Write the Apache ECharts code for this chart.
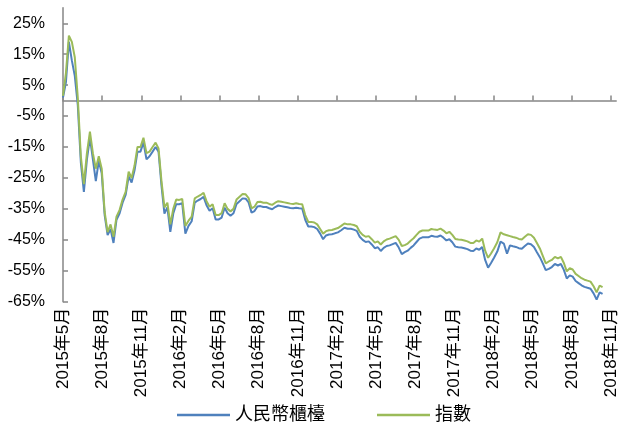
<!DOCTYPE html>
<html><head><meta charset="utf-8">
<script src="https://cdn.jsdelivr.net/npm/echarts@6/dist/echarts.min.js"></script>
<style>html,body{margin:0;padding:0;background:#fff}#c{width:628px;height:426px}</style>
</head><body><div id="c"></div>
<script>
const seriesNames = ['人民幣櫃檯', '指數'];
const xTickLabels = ['2015年5月','2015年8月','2015年11月','2016年2月','2016年5月','2016年8月','2016年11月','2017年2月','2017年5月','2017年8月','2017年11月','2018年2月','2018年5月','2018年8月','2018年11月'];
const yTicks = [-65,-55,-45,-35,-25,-15,-5,5,15,25];
// weekly observations starting from this date
const firstWeek = '2015-05-01';
// cumulative return (%), 人民幣櫃檯
const rmbCounter = [
  1.0, 6, 19, 13, 8, -1.5, -20, -29.5, -19, -12,
  -19, -26, -19.5, -23.5, -37, -43.5, -41.5, -46, -38.5, -36.5,
  -33, -30.5, -24.5, -26.5, -22.5, -16.5, -16.5, -13.5, -19, -18,
  -16.5, -15, -16.5, -27.5, -36.5, -34.5, -42.4, -36.5, -33.5, -33.5,
  -33.2, -43, -40.5, -39, -33, -32.3, -31.8, -31.1, -33.8, -35.6,
  -34.8, -38.4, -38.4, -37.8, -34.6, -36.4, -37.2, -36.4, -33.4, -32.5,
  -31.6, -31.7, -32.9, -36.2, -35.7, -34.2, -34.1, -34.4, -34.4, -34.8,
  -35.1, -34.4, -33.9, -34.1, -34.3, -34.5, -34.7, -34.8, -34.6, -34.8,
  -34.9, -38.5, -40.7, -40.7, -40.9, -41.5, -43, -44.8, -43.6, -43.3,
  -43.2, -42.9, -42.6, -41.9, -41.1, -41.4, -41.4, -41.7, -42.1, -44,
  -45, -45.7, -45.5, -46.5, -47.7, -47.4, -48.6, -47.6, -47, -46.8,
  -46.4, -46, -47.5, -49.6, -49, -48.5, -47.6, -46.8, -45.7, -44.6,
  -44.2, -44.2, -44.2, -43.7, -43.9, -44, -43.6, -44.3, -45.2, -44.8,
  -45.8, -47.2, -47.4, -47.5, -47.7, -48, -48.5, -48.6, -47.8, -48.2,
  -47.3, -51.5, -54, -52.5, -50.8, -48.8, -45.6, -46.2, -49.5, -46.8,
  -47.1, -47.3, -47.7, -47.9, -47, -46.2, -46.4, -47.3, -49, -50.6,
  -52.6, -54.8, -54.4, -53.8, -52.8, -53.3, -52.8, -54.7, -57.5, -56.5,
  -56.9, -58.3, -59, -59.7, -60.2, -60.5, -60.8, -62.3, -64.3, -62,
  -62.5
];
// cumulative return (%), 指數
const indexValues = [
  1.5, 9, 21, 19, 14, 1, -18, -27, -17, -10,
  -17, -22, -18, -22, -36, -42.5, -40, -44, -37.5, -35.4,
  -32, -29.5, -23, -25, -21, -15, -15, -12, -17, -16.5,
  -15, -13.6, -15.5, -26, -34.5, -33, -40, -35, -32, -32.1,
  -31.8, -40.5, -38.8, -37.5, -31.6, -31, -30.5, -29.8, -32.5, -34.3,
  -33.5, -37, -37, -36.4, -33.2, -35, -35.8, -35, -32, -31.1,
  -30.2, -30.3, -31.5, -34.8, -34.3, -32.8, -32.7, -33, -33, -33.4,
  -33.7, -33, -32.5, -32.7, -32.9, -33.1, -33.3, -33.4, -33.2, -33.4,
  -33.5, -37, -39.2, -39.2, -39.4, -40, -41.5, -43, -42.2, -41.9,
  -41.8, -41.5, -41.2, -40.5, -39.7, -40, -40, -40.2, -40.6, -42.4,
  -43.4, -44, -43.8, -44.8, -45.9, -45.5, -46.5, -45.5, -44.9, -44.6,
  -44.2, -43.8, -45, -47, -46.7, -46.2, -45.3, -44.5, -43.4, -42.4,
  -42, -42, -42, -41.5, -41.7, -41.8, -41.4, -42, -42.9, -42.4,
  -43.4, -44.7, -44.9, -45, -45.2, -45.5, -46, -46, -45.2, -45.6,
  -44.6, -48.5, -50.8, -49.4, -47.8, -45.8, -42.6, -43.2, -43.5, -43.8,
  -44.1, -44.3, -44.7, -44.9, -44, -43.2, -43.4, -44.3, -46, -47.8,
  -50.2, -52.6, -52, -51.5, -50.5, -51, -50.5, -52.5, -55.2, -54.2,
  -54.6, -56, -56.7, -57.4, -57.9, -58.2, -58.5, -60, -62, -59.8,
  -60.3
];

// x position in months since 2015年5月
function monthIndex(ts) {
  const d = new Date(ts);
  const y = d.getUTCFullYear(), m = d.getUTCMonth();
  const dim = new Date(Date.UTC(y, m + 1, 0)).getUTCDate();
  return (y - 2015) * 12 + (m - 4) + (d.getUTCDate() - 1) / dim;
}
const t0 = Date.parse(firstWeek + 'T00:00:00Z');
const weekMs = 7 * 86400000;
const xs = indexValues.map((_, i) => monthIndex(t0 + i * weekMs));
const xTickValues = xTickLabels.map((_, i) => i * 3);

const FONT = "'Liberation Sans','Noto Sans CJK TC',sans-serif";
const axisGray = '#868686';

const chart = echarts.init(document.getElementById('c'), null, {renderer: 'canvas'});
chart.setOption({
  animation: false,
  backgroundColor: '#fff',
  grid: {left: 63, right: 11.8, top: 7.8, bottom: 124.3, containLabel: false, outerBoundsMode: 'none'},
  legend: {
    data: seriesNames, left: 172, top: 401, icon: 'rect', itemWidth: 53, itemHeight: 2.5, itemGap: 52,
    textStyle: {fontSize: 18, color: '#000', fontFamily: FONT}
  },
  xAxis: [
    {
      type: 'value', min: 0, max: 42.4,
      axisLine: {show: true, onZero: true, lineStyle: {color: axisGray, width: 1.5}},
      axisTick: {show: true, inside: true, length: 5, customValues: xTickValues, lineStyle: {color: axisGray, width: 1.5}},
      axisLabel: {show: false},
      splitLine: {show: false}
    },
    {
      type: 'value', min: 0, max: 42.4, position: 'bottom',
      axisLine: {show: false, onZero: false},
      axisTick: {show: false},
      axisLabel: {
        show: true, customValues: xTickValues, rotate: 90, margin: 6,
        fontSize: 17, color: '#000', fontFamily: FONT,
        formatter: v => xTickLabels[Math.round(v / 3)] || ''
      },
      splitLine: {show: false}
    }
  ],
  yAxis: {
    type: 'value', min: -65, max: 30,
    axisLine: {show: true, lineStyle: {color: axisGray, width: 1.5}},
    axisTick: {show: true, inside: true, length: 5, customValues: yTicks, lineStyle: {color: axisGray, width: 1.5}},
    axisLabel: {customValues: yTicks, formatter: v => v + '%', fontSize: 16, color: '#000', fontFamily: FONT, margin: 18},
    splitLine: {show: false}
  },
  series: [
    {
      name: seriesNames[0], type: 'line', xAxisIndex: 0,
      data: xs.map((x, i) => [x, rmbCounter[i]]),
      symbol: 'none', showSymbol: false,
      lineStyle: {color: '#4F81BD', width: 2}, itemStyle: {color: '#4F81BD'}
    },
    {
      name: seriesNames[1], type: 'line', xAxisIndex: 0,
      data: xs.map((x, i) => [x, indexValues[i]]),
      symbol: 'none', showSymbol: false,
      lineStyle: {color: '#9BBB59', width: 2}, itemStyle: {color: '#9BBB59'}
    }
  ]
});
</script></body></html>
